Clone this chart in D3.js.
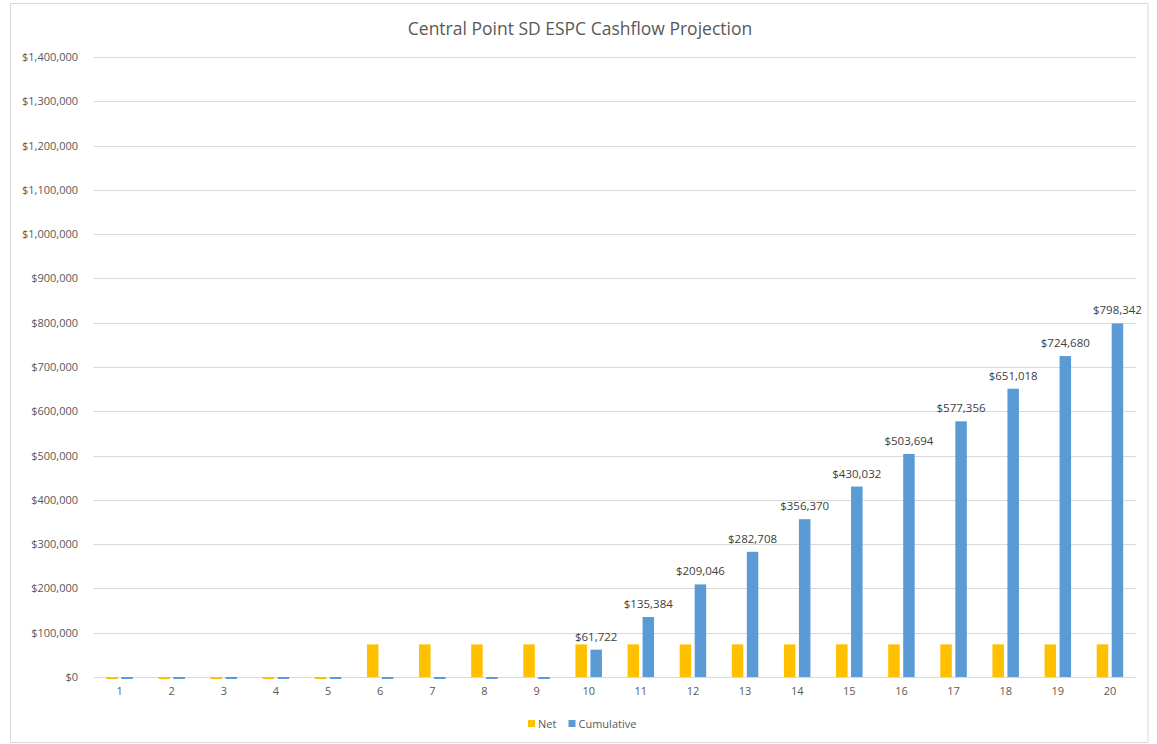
<!DOCTYPE html>
<html>
<head>
<meta charset="utf-8">
<script src="https://cdn.jsdelivr.net/npm/d3@7"></script>
<style>
  html, body { margin: 0; padding: 0; background: #fff; }
  svg { display: block; font-family: "Open Sans", "Noto Sans", sans-serif; }
</style>
</head>
<body>
<svg id="chart" width="1157" height="744"></svg>
<script>
const years = ["1","2","3","4","5","6","7","8","9","10","11","12","13","14","15","16","17","18","19","20"];
const netValues = [-4500,-4500,-4500,-4500,-4500,73662,73662,73662,73662,73662,73662,73662,73662,73662,73662,73662,73662,73662,73662,73662];
const cumulativeValues = [-4500,-4500,-4500,-4500,-4500,-4500,-4500,-4500,-4500,61722,135384,209046,282708,356370,430032,503694,577356,651018,724680,798342];
const yTicks = [0,100000,200000,300000,400000,500000,600000,700000,800000,900000,1000000,1100000,1200000,1300000,1400000];
const seriesNames = ["Net","Cumulative"];
const seriesColors = ["#FFC000","#5B9BD5"];
const title = "Central Point SD ESPC Cashflow Projection";

const svg = d3.select("#chart");
const W = 1157, H = 744;
const plot = {left: 93.5, right: 1136, top: 57, bottom: 677};

// chart border
svg.append("rect").attr("x", 10.5).attr("y", 3.5).attr("width", 1137.5).attr("height", 739)
  .attr("fill", "#fff").attr("stroke", "#d9d9d9").attr("stroke-width", 1);

const x = d3.scaleBand().domain(years).range([plot.left, plot.right]).padding(0);
const y = d3.scaleLinear().domain([0, 1400000]).range([plot.bottom, plot.top]);

const fmt = v => "$" + d3.format(",")(v);

// gridlines
svg.append("g").selectAll("line").data(yTicks).join("line")
  .attr("x1", plot.left).attr("x2", plot.right)
  .attr("y1", d => Math.round(y(d)) + 0.5).attr("y2", d => Math.round(y(d)) + 0.5)
  .attr("stroke", "#d9d9d9").attr("stroke-width", 1);

// y axis labels
const yAxis = d3.axisLeft(y).tickValues(yTicks).tickFormat(fmt).tickSize(0).tickPadding(0);
const gy = svg.append("g").attr("transform", `translate(78,0)`).call(yAxis);
gy.select(".domain").remove();
gy.selectAll("text").attr("fill", "#595959").style("font-size", "11px").style("font-family", '"Open Sans", sans-serif');

// x axis labels
const xAxis = d3.axisBottom(x).tickSize(0).tickPadding(0);
const gx = svg.append("g").attr("transform", `translate(0,${plot.bottom + 10})`).call(xAxis);
gx.select(".domain").remove();
gx.selectAll("text").attr("fill", "#595959").style("font-size", "11px").style("font-family", '"Open Sans", sans-serif');

// bars
const barW = 11.5, gap = 3.5;
const inner = d3.scaleOrdinal().domain(seriesNames).range([-(gap/2) - barW, gap/2]);
const data = [netValues, cumulativeValues];
seriesNames.forEach((s, si) => {
  svg.append("g").selectAll("rect").data(years.map((yr, i) => ({yr, v: data[si][i]}))).join("rect")
    .attr("x", d => x(d.yr) + x.bandwidth()/2 + inner(s))
    .attr("width", barW)
    .attr("y", d => Math.min(y(d.v), y(0)))
    .attr("height", d => Math.abs(y(d.v) - y(0)))
    .attr("fill", seriesColors[si]);
});

// data labels on cumulative (positive values)
svg.append("g").selectAll("text")
  .data(years.map((yr, i) => ({yr, v: cumulativeValues[i]})).filter(d => d.v > 0))
  .join("text")
  .attr("x", d => x(d.yr) + x.bandwidth()/2 + inner("Cumulative") + barW/2)
  .attr("y", d => y(d.v) - 9)
  .attr("text-anchor", "middle")
  .attr("fill", "#404040")
  .style("font-size", "11.5px")
  .text(d => fmt(d.v));

// title
svg.append("text").attr("x", 580).attr("y", 35).attr("text-anchor", "middle")
  .attr("fill", "#595959").style("font-size", "17.5px").text(title);

// legend
const legend = svg.append("g");
const legendItems = [{name: "Net", x: 528}, {name: "Cumulative", x: 568.5}];
legendItems.forEach((it, i) => {
  legend.append("rect").attr("x", it.x).attr("y", 720).attr("width", 7).attr("height", 7).attr("fill", seriesColors[i]);
  legend.append("text").attr("x", it.x + 10).attr("y", 727.5).attr("fill", "#595959")
    .style("font-size", "11px").text(it.name);
});
</script>
</body>
</html>
